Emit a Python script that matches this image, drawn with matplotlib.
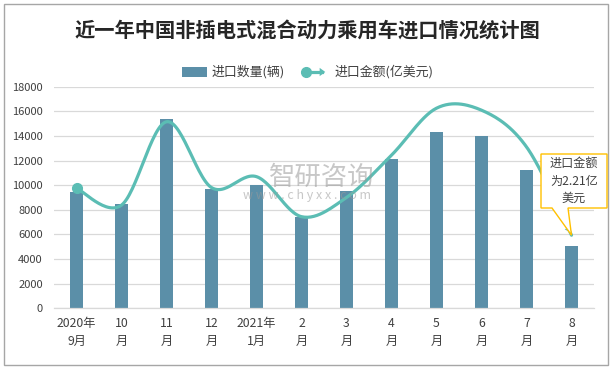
import numpy as np
import matplotlib
matplotlib.use('Agg')
import matplotlib.pyplot as plt
from matplotlib.patches import Polygon, Rectangle, FancyArrowPatch
from matplotlib.lines import Line2D

plt.rcParams['font.family'] = ['Noto Sans CJK SC', 'DejaVu Sans']

# ---- data ----
months = ['2020年\n9月', '10\n月', '11\n月', '12\n月', '2021年\n1月', '2\n月',
          '3\n月', '4\n月', '5\n月', '6\n月', '7\n月', '8\n月']
qty = [9450, 8470, 15380, 9690, 10020, 7440, 9530, 12130, 14320, 14000, 11230, 5090]
amt = [3.63, 3.12, 5.64, 3.65, 3.98, 2.77, 3.35, 4.63, 6.05, 5.99, 4.88, 2.21]
yticks = [0, 2000, 4000, 6000, 8000, 10000, 12000, 14000, 16000, 18000]

title = '近一年中国非插电式混合动力乘用车进口情况统计图'
leg_bar = '进口数量(辆)'
leg_line = '进口金额(亿美元)'
note = '进口金额\n为2.21亿\n美元'

W, H = 614, 368
BAR = '#5B8FA8'
LINE = '#5BBDB4'
TXT = '#404040'

fig = plt.figure(figsize=(W / 100, H / 100), dpi=100)
fig.patch.set_facecolor('white')

def px(x, y):
    return x / W, 1 - y / H

ax = fig.add_axes([54 / W, 1 - 308.3 / H, 540 / W, (308.3 - 86.7) / H])
x = np.arange(len(months))
ax.bar(x, qty, width=0.31, color=BAR, zorder=2)
ax.set_xlim(-0.5, len(months) - 0.5)
ax.set_ylim(0, 18000)
ax.set_yticks(yticks)
ax.set_yticklabels([str(v) for v in yticks], fontsize=8, color=TXT)
ax.set_xticks(x)
ax.set_xticklabels(months, fontsize=8.8, color=TXT, linespacing=1.55)
ax.tick_params(axis='both', length=0)
ax.tick_params(axis='y', pad=8)
ax.tick_params(axis='x', pad=6)
ax.grid(axis='y', color='#D9D9D9', linewidth=0.9, zorder=0)
for s in ['left', 'right', 'top']:
    ax.spines[s].set_visible(False)
ax.spines['bottom'].set_color('#D9D9D9')
ax.spines['bottom'].set_linewidth(0.9)
ax.set_axisbelow(True)

# secondary hidden axis for amount
ax2 = ax.twinx()
ax2.set_ylim(0, 6.7)
ax2.set_yticks([])
for s in ax2.spines.values():
    s.set_visible(False)

# smooth (Catmull-Rom / Excel-like) curve
P = np.column_stack([x, amt]).astype(float)
n = len(P)
xs, ys = [], []
t = np.linspace(0, 1, 30)
for i in range(n - 1):
    p0 = P[i - 1] if i > 0 else P[i]
    p1 = P[i]
    p2 = P[i + 1]
    p3 = P[i + 2] if i + 2 < n else P[i + 1]
    c1 = p1 + (p2 - p0) / 6
    c2 = p2 - (p3 - p1) / 6
    b = ((1 - t) ** 3)[:, None] * p1 + (3 * (1 - t) ** 2 * t)[:, None] * c1 + \
        (3 * (1 - t) * t ** 2)[:, None] * c2 + (t ** 3)[:, None] * p2
    xs.extend(b[:, 0]); ys.extend(b[:, 1])
ax2.plot(xs, ys, color=LINE, lw=2.3, zorder=3, solid_capstyle='round')
ax2.plot([x[0]], [amt[0]], 'o', color=LINE, ms=7, zorder=4)
ax2.add_patch(FancyArrowPatch((xs[-4], ys[-4]), (xs[-1], ys[-1]),
                              arrowstyle='-|>,head_length=4,head_width=2.5',
                              color=LINE, lw=0, zorder=4))

fig.canvas.draw()
tipx, tipy = ax2.transData.transform((x[-1], amt[-1]))
tip = (tipx / W, tipy / H)

# callout
bx0, bx1, by0, by1 = 541, 607, 154, 208
verts = [px(bx0, by0), px(bx1, by0), px(bx1, by1), px(568, by1), tip,
         px(552, by1), px(bx0, by1)]
fig.patches.append(Polygon(verts, closed=True, transform=fig.transFigure,
                           facecolor='white', edgecolor='#FFC000', lw=1.0, zorder=5))
fig.text(*px((bx0 + bx1) / 2, (by0 + by1) / 2), note, ha='center', va='center',
         fontsize=8.7, color=TXT, linespacing=1.45, zorder=6)

# watermark
fig.text(*px(322, 177), '智研咨询', ha='center', va='center', fontsize=19,
         color='#9A9A9A', alpha=0.55, zorder=1)
fig.text(*px(307, 196), 'w w w . c h y x x . c o m', ha='center', va='center',
         fontsize=9, color='#9A9A9A', alpha=0.55, zorder=1)

# title
fig.text(*px(307, 31), title, ha='center', va='center', fontsize=14.6,
         fontweight='bold', color='#262626')

# legend (manual)
fig.patches.append(Rectangle(px(182, 76.5), 25 / W, 9 / H, transform=fig.transFigure,
                             facecolor=BAR, edgecolor='none'))
fig.text(*px(212, 72), leg_bar, ha='left', va='center', fontsize=9.3, color=TXT)
fig.lines.append(Line2D([306 / W, 322 / W], [1 - 72 / H] * 2, transform=fig.transFigure,
                        color=LINE, lw=2.3))
fig.lines.append(Line2D([306 / W], [1 - 72 / H], transform=fig.transFigure,
                        marker='o', ms=7, color=LINE))
fig.patches.append(FancyArrowPatch(px(318, 72), px(328, 72), transform=fig.transFigure,
                                   arrowstyle='-|>,head_length=4,head_width=3',
                                   color=LINE, lw=0))
fig.text(*px(335, 72), leg_line, ha='left', va='center', fontsize=9.3, color=TXT)

# outer border
fig.patches.append(Rectangle(px(4, 365), 604 / W, 361 / H, transform=fig.transFigure,
                             facecolor='none', edgecolor='#A6A6A6', lw=1.0))

fig.savefig('out.png', dpi=100)
